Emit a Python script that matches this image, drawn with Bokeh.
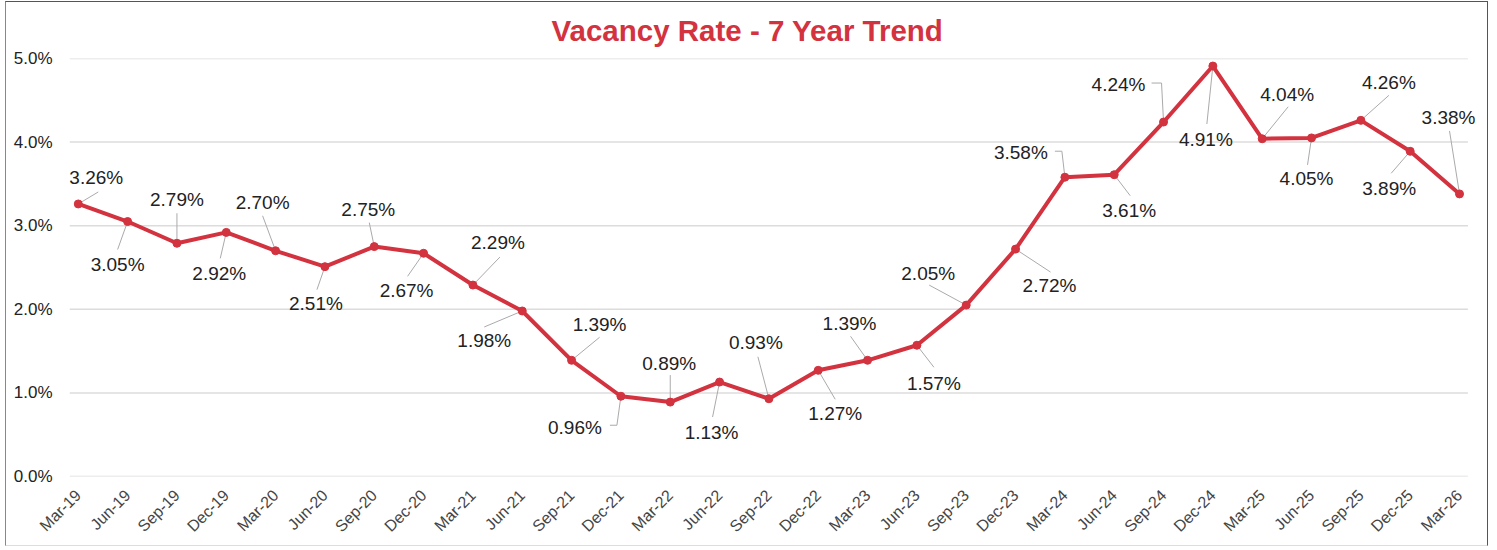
from bokeh.plotting import figure
from bokeh.models import (Range1d, FixedTicker, PrintfTickFormatter, ColumnDataSource,
                          LabelSet, Title)
from bokeh.embed import file_html
from bokeh.resources import INLINE
from bokeh.core.properties import value

# ---- data ----
quarters = ["Mar-19", "Jun-19", "Sep-19", "Dec-19", "Mar-20", "Jun-20", "Sep-20", "Dec-20",
            "Mar-21", "Jun-21", "Sep-21", "Dec-21", "Mar-22", "Jun-22", "Sep-22", "Dec-22",
            "Mar-23", "Jun-23", "Sep-23", "Dec-23", "Mar-24", "Jun-24", "Sep-24", "Dec-24",
            "Mar-25", "Jun-25", "Sep-25", "Dec-25", "Mar-26"]
vacancy = [3.26, 3.05, 2.79, 2.92, 2.70, 2.51, 2.75, 2.67,
           2.29, 1.98, 1.39, 0.96, 0.89, 1.13, 0.93, 1.27,
           1.39, 1.57, 2.05, 2.72, 3.58, 3.61, 4.24, 4.91,
           4.04, 4.05, 4.26, 3.89, 3.38]
y_ticks = [0, 1, 2, 3, 4, 5]

# ---- label placement (screen px offsets from each point; +dy = downward) ----
label_offsets = [(18, -26), (-10, 43), (0, -44), (-7, 41), (-13, -48), (-9, 37), (-6, -37),
                 (-17, 37), (25, -43), (-38, 30), (28, -36), (-46, 31), (-1, -39), (-8, 50),
                 (-13, -56), (17, 43), (-18, -37), (17, 38), (-38, -32), (34, 36), (-44, -25),
                 (15, 36), (-45, -38), (-7, 73), (25, -44), (-5, 41), (28, -38), (-21, 37),
                 (-11, -76)]
leader_paths = [[(20, -12)], [(-10, 28)], [(0, -30)], [(-6, 26)], [(-13, -35)], [(-8, 23)],
                [(-5, -24)], [(-16, 23)], [(27, -28)], [(-38, 16)], [(28, -23)],
                [(-4, 29), (-11, 29)], [(0, -27)], [(-7, 35)], [(-11, -42)], [(17, 29)],
                [(-17, -24)], [(17, 22)], [(-37, -20)], [(35, 23)], [(-3, -26), (-10, -26)],
                [(16, 21)], [(-2, -39), (-12, -39)], [(-6, 58)], [(26, -32)], [(-4, 27)],
                [(28, -25)], [(-19, 22)], [(-10, -63)]]

RED = "#D3323F"
W, H = 1483, 545
LEFT, RIGHT, TOP, BOTTOM = 63, 10, 56, 71
XMIN = -0.178
PX_PER_X = 49.33
XMAX = XMIN + (W - LEFT - RIGHT) / PX_PER_X
GRID_XMAX = 28.17
YMIN, YMAX = 0, 5
sx = (W - LEFT - RIGHT) / (XMAX - XMIN)
sy = (H - TOP - BOTTOM) / (YMAX - YMIN)

xs = list(range(len(quarters)))

p = figure(width=W, height=H, output_backend="svg", toolbar_location=None,
           x_range=Range1d(XMIN, XMAX), y_range=Range1d(YMIN, YMAX),
           min_border_left=LEFT, min_border_right=RIGHT, min_border_top=TOP,
           min_border_bottom=BOTTOM)
p.styles = {"border-top": "1.5px solid #555", "border-right": "1.5px solid #555",
            "border-left": "1.5px solid #888", "border-bottom": "1.5px solid #DDD",
            "margin-left": "5px", "margin-top": "1px"}

title = Title(text="Vacancy Rate - 7 Year Trend", align="left", offset=482, standoff=19,
              vertical_align="top",
              text_font="Liberation Sans", text_font_size="29.5px",
              text_font_style="bold", text_color=RED)
p.add_layout(title, "above")
p.outline_line_color = None

# axes
p.xaxis.ticker = FixedTicker(ticks=xs)
p.xaxis.major_label_overrides = {i: q for i, q in enumerate(quarters)}
p.xaxis.major_label_orientation = 0.785398
p.xaxis.major_label_text_font = "Liberation Sans"
p.xaxis.major_label_text_font_size = "16px"
p.xaxis.major_label_text_color = "#444444"
p.xaxis.major_label_standoff = 10
p.xaxis.axis_line_color = None
p.xaxis.major_tick_line_color = None
p.xaxis.minor_tick_line_color = None

p.yaxis.ticker = FixedTicker(ticks=y_ticks)
p.yaxis.formatter = PrintfTickFormatter(format="%.1f%%")
p.yaxis.major_label_text_font = "Liberation Sans"
p.yaxis.major_label_text_font_size = "17px"
p.yaxis.major_label_text_color = "#222222"
p.yaxis.major_label_standoff = 11
p.yaxis.axis_line_color = None
p.yaxis.major_tick_line_color = None
p.yaxis.minor_tick_line_color = None

p.xgrid.grid_line_color = None
p.ygrid.grid_line_color = None
p.segment(x0=[XMIN] * len(y_ticks), y0=y_ticks, x1=[GRID_XMAX] * len(y_ticks), y1=y_ticks,
          line_color="#DCDCDC", line_width=1.5)

# leader lines
lx, ly = [], []
for x, v, path in zip(xs, vacancy, leader_paths):
    px = [x] + [x + dx / sx for dx, dy in path]
    py = [v] + [v - dy / sy for dx, dy in path]
    lx.append(px)
    ly.append(py)
p.multi_line(lx, ly, line_color="#AAAAAA", line_width=1)

# main line
p.line(xs, vacancy, line_color=RED, line_width=4)
p.scatter(xs, vacancy, size=8, fill_color=RED, line_color=RED)

src = ColumnDataSource(dict(
    x=xs, y=vacancy,
    text=[f"{v:.2f}%" for v in vacancy],
    xo=[o[0] for o in label_offsets],
    yo=[-o[1] for o in label_offsets],
))
labels = LabelSet(x="x", y="y", text="text", x_offset="xo", y_offset="yo", source=src,
                  text_align="center", text_baseline="middle",
                  text_font=value("Liberation Sans"), text_font_size="19px",
                  text_color="#222222")
p.add_layout(labels)

open("out.html", "w").write(file_html(p, INLINE))
